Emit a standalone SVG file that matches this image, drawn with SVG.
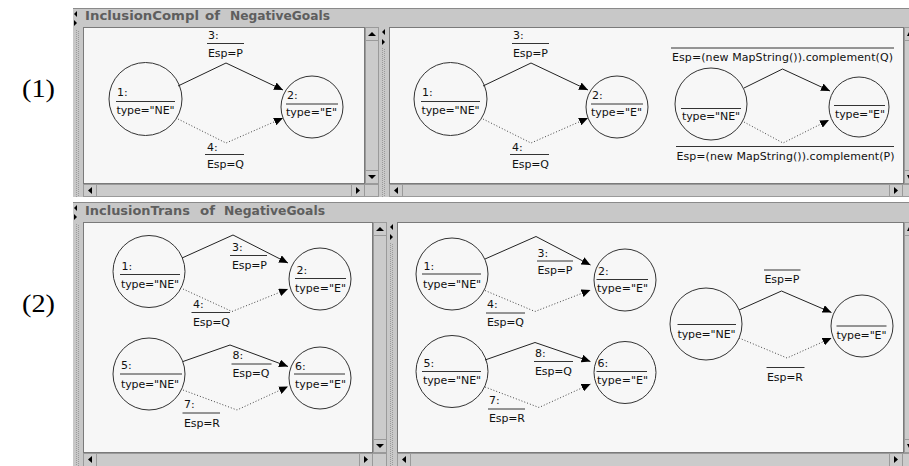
<svg xmlns="http://www.w3.org/2000/svg" width="909" height="466" viewBox="0 0 909 466">
<defs>
<style>
.bar{fill:#c8c8c8}
.pane{fill:#f7f7f7;stroke:#7a7a7a;stroke-width:1}
.btn{fill:#cbcbcb;stroke:#9a9a9a;stroke-width:1}
.tri{fill:#000}
.grip{stroke:#9a9a9a;stroke-width:1;stroke-dasharray:1 1}
.hl{stroke:#8a8a8a;stroke-width:1}
.ttl{font-family:"DejaVu Sans",sans-serif;font-size:12px;font-weight:bold;fill:#5e5e5e}
.num{font-family:"Liberation Serif",serif;font-size:25px;fill:#000}
.node circle{fill:none;stroke:#333;stroke-width:1}
.t{font-family:"DejaVu Sans",sans-serif;font-size:11px;fill:#111}
.sep{stroke:#333;stroke-width:1}
.e{fill:none;stroke:#222;stroke-width:1}
.d{fill:none;stroke:#444;stroke-width:1;stroke-dasharray:1 2}
</style>
<marker id="ah" markerWidth="9" markerHeight="8" refX="9" refY="4" orient="auto" markerUnits="userSpaceOnUse"><path d="M0,0 L9,4 L0,8 z" fill="#000"/></marker>
</defs>
<rect width="909" height="466" fill="#fff"/>

<g id="chrome">
<!-- panel 1 -->
<rect class="bar" x="73" y="8" width="836" height="189"/>
<line class="hl" x1="73" y1="8.5" x2="909" y2="8.5"/>
<line class="grip" x1="76.5" y1="30" x2="76.5" y2="197"/>
<line class="grip" x1="78.5" y1="31" x2="78.5" y2="197"/>
<polygon class="tri" points="77,11 77,17 74,14"/>
<polygon class="tri" points="74,20 74,26 77,23"/>
<rect class="pane" x="83.5" y="27.5" width="281" height="156"/>
<rect class="btn" x="365.5" y="27.5" width="13" height="156"/>
<rect class="btn" x="365.5" y="27.5" width="13" height="13"/>
<polygon class="tri" points="368,36 376,36 372,32"/>
<rect class="btn" x="365.5" y="170.5" width="13" height="13"/>
<polygon class="tri" points="368,175 376,175 372,179"/>
<rect class="btn" x="83.5" y="184.5" width="295" height="12"/>
<rect class="btn" x="83.5" y="184.5" width="13" height="12"/>
<polygon class="tri" points="92,187 92,194 88,190.5"/>
<rect class="btn" x="351.5" y="184.5" width="13" height="12"/>
<polygon class="tri" points="356,187 356,194 360,190.5"/>
<line class="grip" x1="382.5" y1="48" x2="382.5" y2="197"/>
<line class="grip" x1="384.5" y1="49" x2="384.5" y2="197"/>
<polygon class="tri" points="385,29 385,35 382,32"/>
<polygon class="tri" points="382,39 382,45 385,42"/>
<rect class="pane" x="389.5" y="27.5" width="514" height="156"/>
<rect class="btn" x="904.5" y="27.5" width="6" height="156"/>
<rect class="btn" x="904.5" y="27.5" width="6" height="13"/>
<polygon class="tri" points="907,36 912,36 909,32"/>
<rect class="btn" x="904.5" y="170.5" width="6" height="13"/>
<polygon class="tri" points="907,175 912,175 909,179"/>
<rect class="btn" x="389.5" y="184.5" width="520" height="12"/>
<rect class="btn" x="389.5" y="184.5" width="13" height="12"/>
<polygon class="tri" points="398,187 398,194 394,190.5"/>
<rect class="btn" x="889.5" y="184.5" width="13" height="12"/>
<polygon class="tri" points="894,187 894,194 898,190.5"/>
<rect x="73" y="197" width="836" height="5" fill="#fff"/>
<text class="ttl" x="85" y="20" textLength="114" lengthAdjust="spacingAndGlyphs">InclusionCompl</text>
<text class="ttl" x="205" y="20" textLength="15" lengthAdjust="spacingAndGlyphs">of</text>
<text class="ttl" x="230" y="20" textLength="100" lengthAdjust="spacingAndGlyphs">NegativeGoals</text>

<!-- panel 2 -->
<rect class="bar" x="73" y="202" width="836" height="264"/>
<line class="hl" x1="73" y1="202.5" x2="909" y2="202.5"/>
<line class="grip" x1="76.5" y1="224" x2="76.5" y2="466"/>
<line class="grip" x1="78.5" y1="225" x2="78.5" y2="466"/>
<polygon class="tri" points="77,205 77,211 74,208"/>
<polygon class="tri" points="74,214 74,220 77,217"/>
<rect class="pane" x="83.5" y="222.5" width="289" height="230"/>
<rect class="btn" x="373.5" y="222.5" width="13" height="230"/>
<rect class="btn" x="373.5" y="222.5" width="13" height="13"/>
<polygon class="tri" points="376,231 384,231 380,227"/>
<rect class="btn" x="373.5" y="439.5" width="13" height="13"/>
<polygon class="tri" points="376,444 384,444 380,448"/>
<rect class="btn" x="83.5" y="453.5" width="303" height="13"/>
<rect class="btn" x="83.5" y="453.5" width="13" height="13"/>
<polygon class="tri" points="92,456 92,463 88,459.5"/>
<rect class="btn" x="359.5" y="453.5" width="13" height="13"/>
<polygon class="tri" points="364,456 364,463 368,459.5"/>
<line class="grip" x1="390.5" y1="243" x2="390.5" y2="466"/>
<line class="grip" x1="392.5" y1="244" x2="392.5" y2="466"/>
<polygon class="tri" points="393,224 393,230 390,227"/>
<polygon class="tri" points="390,234 390,240 393,237"/>
<rect class="pane" x="397.5" y="222.5" width="506" height="230"/>
<rect class="btn" x="904.5" y="222.5" width="6" height="230"/>
<rect class="btn" x="904.5" y="222.5" width="6" height="13"/>
<polygon class="tri" points="907,231 912,231 909,227"/>
<rect class="btn" x="904.5" y="439.5" width="6" height="13"/>
<polygon class="tri" points="907,444 912,444 909,448"/>
<rect class="btn" x="397.5" y="453.5" width="512" height="13"/>
<rect class="btn" x="397.5" y="453.5" width="13" height="13"/>
<polygon class="tri" points="406,456 406,463 402,459.5"/>
<rect class="btn" x="889.5" y="453.5" width="13" height="13"/>
<polygon class="tri" points="894,456 894,463 898,459.5"/>
<text class="ttl" x="85" y="215" textLength="105" lengthAdjust="spacingAndGlyphs">InclusionTrans</text>
<text class="ttl" x="200" y="215" textLength="15" lengthAdjust="spacingAndGlyphs">of</text>
<text class="ttl" x="224" y="215" textLength="101" lengthAdjust="spacingAndGlyphs">NegativeGoals</text>
</g>

<text class="num" x="22" y="97" textLength="33" lengthAdjust="spacingAndGlyphs">(1)</text>
<text class="num" x="22" y="312" textLength="33" lengthAdjust="spacingAndGlyphs">(2)</text>

<!-- ========== Panel 1, left pane ========== -->
<g id="p1l-n1" class="node"><circle cx="145.5" cy="99" r="36.5"/><text class="t" x="117" y="96">1:</text><line class="sep" x1="116" y1="101.5" x2="175" y2="101.5"/><text class="t" x="116.5" y="114" textLength="58">type="NE"</text></g>
<g id="p1l-n2" class="node"><circle cx="312" cy="107" r="31"/><text class="t" x="287" y="99">2:</text><line class="sep" x1="286" y1="104" x2="338" y2="104"/><text class="t" x="286" y="116" textLength="51">type="E"</text></g>

<!-- ========== Panel 1, right pane ========== -->
<g id="p1r-n1" class="node"><circle cx="450.5" cy="99" r="36.5"/><text class="t" x="422" y="96">1:</text><line class="sep" x1="421" y1="101.5" x2="480" y2="101.5"/><text class="t" x="421.5" y="114" textLength="58">type="NE"</text></g>
<g id="p1r-n2" class="node"><circle cx="617" cy="107" r="31"/><text class="t" x="592" y="99">2:</text><line class="sep" x1="591" y1="104" x2="643" y2="104"/><text class="t" x="591" y="116" textLength="51">type="E"</text></g>
<g id="p1r-nA" class="node"><circle cx="711" cy="104" r="36"/><line class="sep" x1="681" y1="108.5" x2="741" y2="108.5"/><text class="t" x="682" y="120" textLength="58">type="NE"</text></g>
<g id="p1r-nB" class="node"><circle cx="859" cy="107" r="30"/><line class="sep" x1="834" y1="105.5" x2="885" y2="105.5"/><text class="t" x="835" y="118" textLength="50">type="E"</text></g>

<!-- ========== Panel 2, left pane ========== -->
<g id="p2l-n1" class="node"><circle cx="149" cy="271.5" r="36"/><text class="t" x="121.5" y="270">1:</text><line class="sep" x1="120" y1="274.5" x2="180" y2="274.5"/><text class="t" x="121" y="288" textLength="58">type="NE"</text></g>
<g id="p2l-n2" class="node"><circle cx="320" cy="279" r="31"/><text class="t" x="296.5" y="273.5">2:</text><line class="sep" x1="295" y1="278.5" x2="346" y2="278.5"/><text class="t" x="295" y="291.5" textLength="51">type="E"</text></g>
<g id="p2l-n5" class="node"><circle cx="149" cy="374" r="36"/><text class="t" x="121" y="369">5:</text><line class="sep" x1="120" y1="374" x2="182" y2="374"/><text class="t" x="121" y="387.5" textLength="58">type="NE"</text></g>
<g id="p2l-n6" class="node"><circle cx="320" cy="378" r="31"/><text class="t" x="295" y="369.5">6:</text><line class="sep" x1="294" y1="374" x2="345" y2="374"/><text class="t" x="295" y="387.5" textLength="51">type="E"</text></g>

<!-- ========== Panel 2, right pane ========== -->
<g id="p2r-n1" class="node"><circle cx="452" cy="274" r="36"/><text class="t" x="423.5" y="270">1:</text><line class="sep" x1="422" y1="274" x2="481" y2="274"/><text class="t" x="423" y="287.5" textLength="58">type="NE"</text></g>
<g id="p2r-n2" class="node"><circle cx="625" cy="280" r="31"/><text class="t" x="598" y="275">2:</text><line class="sep" x1="596.5" y1="279.5" x2="648" y2="279.5"/><text class="t" x="597" y="292" textLength="51">type="E"</text></g>
<g id="p2r-n5" class="node"><circle cx="452" cy="371.5" r="36"/><text class="t" x="423.5" y="366.5">5:</text><line class="sep" x1="422" y1="371.5" x2="481" y2="371.5"/><text class="t" x="423" y="384" textLength="58">type="NE"</text></g>
<g id="p2r-n6" class="node"><circle cx="625" cy="372.5" r="31"/><text class="t" x="597.5" y="366.5">6:</text><line class="sep" x1="596.5" y1="371.5" x2="647" y2="371.5"/><text class="t" x="597" y="384" textLength="51">type="E"</text></g>
<g id="p2r-nA" class="node"><circle cx="706" cy="324" r="36"/><line class="sep" x1="677.5" y1="324.5" x2="736" y2="324.5"/><text class="t" x="677.5" y="337.5" textLength="58">type="NE"</text></g>
<g id="p2r-nB" class="node"><circle cx="862" cy="326" r="31"/><line class="sep" x1="836.5" y1="326" x2="886.5" y2="326"/><text class="t" x="836.5" y="338.5" textLength="50">type="E"</text></g>

<g id="connectors">
<!-- panel 1 left -->
<path class="e" d="M178,86 L226,63 L283,90" marker-end="url(#ah)"/>
<text class="t" x="208" y="39">3:</text><line class="sep" x1="207" y1="43.5" x2="244" y2="43.5"/><text class="t" x="208" y="57" textLength="35">Esp=P</text>
<path class="d" d="M178,119 L226,143 L283,118" marker-end="url(#ah)"/>
<text class="t" x="207" y="150.5">4:</text><line class="sep" x1="205" y1="154.5" x2="244" y2="154.5"/><text class="t" x="207" y="168" textLength="37">Esp=Q</text>
<!-- panel 1 right -->
<path class="e" d="M483,86 L531,63 L588,90" marker-end="url(#ah)"/>
<text class="t" x="513" y="39">3:</text><line class="sep" x1="512" y1="43.5" x2="549" y2="43.5"/><text class="t" x="513" y="57" textLength="35">Esp=P</text>
<path class="d" d="M483,119 L531,143 L588,118" marker-end="url(#ah)"/>
<text class="t" x="512" y="150.5">4:</text><line class="sep" x1="510" y1="154.5" x2="549" y2="154.5"/><text class="t" x="512" y="168" textLength="37">Esp=Q</text>
<path class="e" d="M744,88 L782.5,69 L830,91" marker-end="url(#ah)"/>
<line class="sep" x1="671" y1="48" x2="894" y2="48"/><text class="t" x="672" y="61" textLength="221">Esp=(new MapString()).complement(Q)</text>
<path class="d" d="M744,122 L783,143 L829,120" marker-end="url(#ah)"/>
<line class="sep" x1="676" y1="146.5" x2="894" y2="146.5"/><text class="t" x="676.5" y="160" textLength="218">Esp=(new MapString()).complement(P)</text>
<!-- panel 2 left -->
<path class="e" d="M182,258 L233,235 L288,263" marker-end="url(#ah)"/>
<text class="t" x="232" y="251">3:</text><line class="sep" x1="230" y1="255.5" x2="267" y2="255.5"/><text class="t" x="232" y="269" textLength="35">Esp=P</text>
<path class="d" d="M183,289 L232,311.5 L288,289" marker-end="url(#ah)"/>
<text class="t" x="193" y="308">4:</text><line class="sep" x1="191.5" y1="312.5" x2="230" y2="312.5"/><text class="t" x="193" y="325.5" textLength="37">Esp=Q</text>
<path class="e" d="M183,361.5 L230,345 L288,366.5" marker-end="url(#ah)"/>
<text class="t" x="232.5" y="359">8:</text><line class="sep" x1="231.5" y1="364" x2="271.5" y2="364"/><text class="t" x="232.5" y="376.5" textLength="37">Esp=Q</text>
<path class="d" d="M183,390 L237,410 L288,386.5" marker-end="url(#ah)"/>
<text class="t" x="184" y="408">7:</text><line class="sep" x1="182.5" y1="413" x2="220" y2="413"/><text class="t" x="184" y="426.5" textLength="36">Esp=R</text>
<!-- panel 2 right -->
<path class="e" d="M485,259 L536,236.5 L590.5,265" marker-end="url(#ah)"/>
<text class="t" x="537.5" y="256.5">3:</text><line class="sep" x1="537" y1="261" x2="573" y2="261"/><text class="t" x="537.5" y="274" textLength="35">Esp=P</text>
<path class="d" d="M485,290.5 L535,311.5 L590.5,290" marker-end="url(#ah)"/>
<text class="t" x="487" y="308">4:</text><line class="sep" x1="486" y1="313" x2="525" y2="313"/><text class="t" x="487" y="325.5" textLength="37">Esp=Q</text>
<path class="e" d="M485,360 L535,342.5 L590.5,361.5" marker-end="url(#ah)"/>
<text class="t" x="535" y="356.5">8:</text><line class="sep" x1="534" y1="361.5" x2="573" y2="361.5"/><text class="t" x="535" y="375" textLength="37">Esp=Q</text>
<path class="d" d="M485,387 L539,407.5 L590.5,384" marker-end="url(#ah)"/>
<text class="t" x="489" y="404">7:</text><line class="sep" x1="488" y1="409" x2="525" y2="409"/><text class="t" x="489" y="422" textLength="36">Esp=R</text>
<path class="e" d="M739,310 L781.5,291 L831.5,312.5" marker-end="url(#ah)"/>
<line class="sep" x1="764" y1="270" x2="800.5" y2="270"/><text class="t" x="764.5" y="283" textLength="35">Esp=P</text>
<path class="d" d="M739,338 L787,358 L831.5,338" marker-end="url(#ah)"/>
<line class="sep" x1="766.5" y1="367.5" x2="804.5" y2="367.5"/><text class="t" x="767" y="381" textLength="36">Esp=R</text>
</g>
</svg>
